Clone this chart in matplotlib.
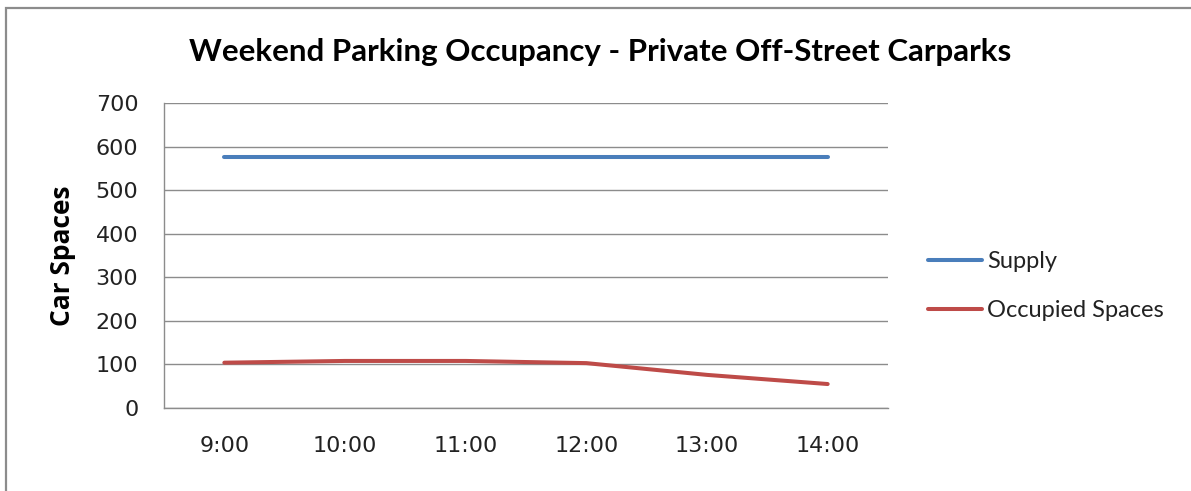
import matplotlib
matplotlib.use("Agg")
import matplotlib.pyplot as plt
from matplotlib.patches import Rectangle

times = ["9:00", "10:00", "11:00", "12:00", "13:00", "14:00"]
supply = [575, 575, 575, 575, 575, 575]
occupied = [104, 108, 108, 103, 76, 55]
y_ticks = [0, 100, 200, 300, 400, 500, 600, 700]

W, H = 1191, 491
fig = plt.figure(figsize=(W / 100, H / 100), dpi=100)

# outer chart frame
fig.patches.append(Rectangle((6 / W, -0.1), 1.2, (H - 8) / H + 0.1, transform=fig.transFigure,
                             fill=False, edgecolor="#8c8c8c", linewidth=1.6, zorder=0))

ax = fig.add_axes([164 / W, 1 - 408 / H, (888 - 164) / W, (408 - 103) / H])
x = list(range(len(times)))
ax.plot(x, supply, color="#4A7EBB", linewidth=2.9, solid_capstyle="round", label="Supply", zorder=3)
ax.plot(x, occupied, color="#BE4B48", linewidth=2.9, solid_capstyle="round",
        solid_joinstyle="round", label="Occupied Spaces", zorder=3)

ax.set_xlim(-0.5, len(times) - 0.5)
ax.set_ylim(0, 700)
ax.set_yticks(y_ticks)
ax.set_xticks(x)
ax.set_xticklabels(times)
ax.yaxis.grid(True, color="#8c8c8c", linewidth=1.0)
ax.set_axisbelow(True)
for s in ["top", "right"]:
    ax.spines[s].set_visible(False)
for s in ["left", "bottom"]:
    ax.spines[s].set_color("#8c8c8c")
    ax.spines[s].set_linewidth(1.0)
ax.tick_params(length=0, labelsize=16, colors="#222222")
ax.tick_params(axis="y", pad=18.5)
ax.tick_params(axis="x", pad=20)

fig.text(600 / W, 1 - 52 / H, "Weekend Parking Occupancy - Private Off-Street Carparks",
         ha="center", va="center", fontsize=22.5, fontweight="bold", family="Lato")
fig.text(63 / W, 1 - 256 / H, "Car Spaces", rotation=90, ha="center", va="center",
         fontsize=19, fontweight="bold", family="Open Sans")

leg = fig.legend(loc="center left", bbox_to_anchor=(928 / W, 1 - 286 / H), frameon=False,
                 borderpad=0, borderaxespad=0, handlelength=2.3, handletextpad=0.2,
                 labelspacing=1.2, prop={"family": "Lato", "size": 17})
for t in leg.get_texts():
    t.set_color("#222222")

fig.savefig("out.png", dpi=100)
